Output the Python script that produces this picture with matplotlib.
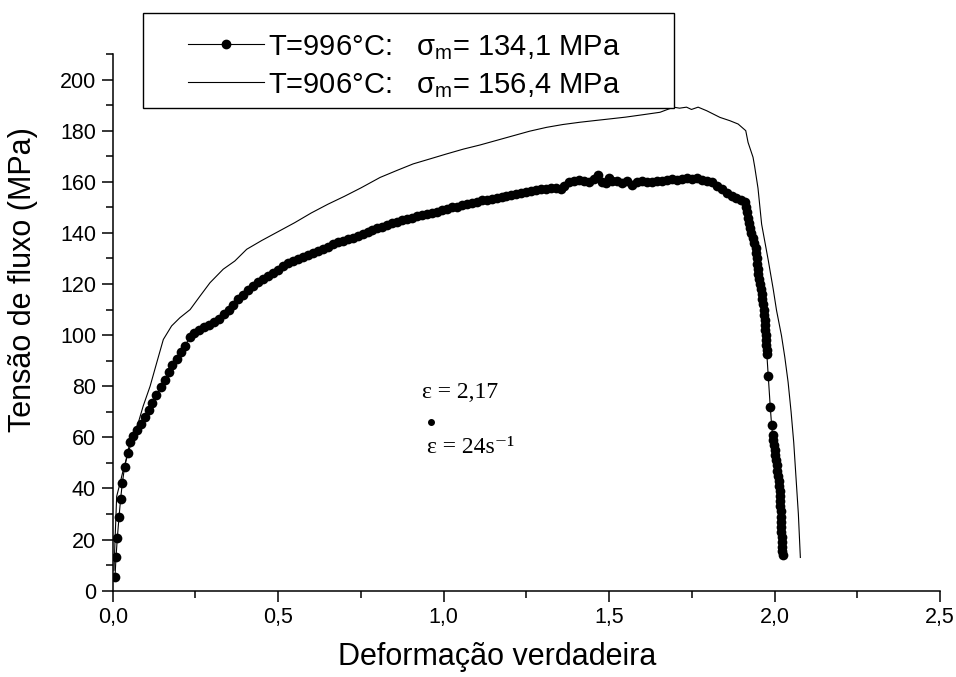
import matplotlib
matplotlib.use("Agg")
import matplotlib.pyplot as plt
from matplotlib.lines import Line2D
from matplotlib.patches import Rectangle
from matplotlib.ticker import MultipleLocator, FuncFormatter

plt.rcParams["font.family"] = ["Liberation Sans", "DejaVu Sans"]
plt.rcParams["mathtext.fontset"] = "custom"
plt.rcParams["mathtext.rm"] = "Liberation Sans"
plt.rcParams["mathtext.it"] = "Liberation Sans:italic"

# --- Data ---
# T = 996 C, plotted with dots
STRAIN_996 = [
    0.007, 0.010, 0.014, 0.019, 0.024, 0.029, 0.036, 0.045, 0.052, 0.062,
    0.074, 0.085, 0.097, 0.109, 0.120, 0.132, 0.145, 0.157, 0.170, 0.180,
    0.193, 0.205, 0.218, 0.233, 0.245, 0.260, 0.275, 0.290, 0.305, 0.320,
    0.335, 0.350, 0.365, 0.380, 0.395, 0.410, 0.425, 0.440, 0.455, 0.470,
    0.485, 0.500, 0.515, 0.530, 0.545, 0.560, 0.575, 0.590, 0.605, 0.620,
    0.635, 0.650, 0.665, 0.680, 0.695, 0.710, 0.725, 0.740, 0.755, 0.770,
    0.785, 0.800, 0.815, 0.830, 0.845, 0.860, 0.875, 0.890, 0.905, 0.920,
    0.935, 0.950, 0.965, 0.980, 0.995, 1.010, 1.025, 1.040, 1.055, 1.070,
    1.085, 1.100, 1.115, 1.130, 1.145, 1.160, 1.175, 1.190, 1.205, 1.220,
    1.235, 1.250, 1.265, 1.280, 1.295, 1.310, 1.325, 1.340, 1.355, 1.365,
    1.380, 1.395, 1.410, 1.425, 1.440, 1.455, 1.467, 1.480, 1.490, 1.500,
    1.510, 1.525, 1.540, 1.555, 1.570, 1.585, 1.600, 1.615, 1.630, 1.645,
    1.660, 1.675, 1.690, 1.705, 1.720, 1.735, 1.750, 1.765, 1.780, 1.795,
    1.810, 1.825, 1.840, 1.855, 1.870, 1.885, 1.900,
    1.910, 1.913, 1.916, 1.919, 1.922, 1.925, 1.929, 1.934, 1.939, 1.943,
    1.945, 1.946, 1.947, 1.949, 1.951, 1.954, 1.957, 1.959, 1.961, 1.963,
    1.965, 1.967, 1.969, 1.970, 1.971, 1.972, 1.973, 1.974, 1.975, 1.976,
    1.977, 1.981, 1.987, 1.991,
    1.994, 1.996, 1.998, 2.000, 2.002, 2.004, 2.006, 2.008, 2.010, 2.012,
    2.014, 2.015, 2.016, 2.017, 2.018, 2.019, 2.019, 2.020, 2.020, 2.021,
    2.022, 2.022, 2.023, 2.024, 2.025,
]
STRESS_996 = [
    5.5, 13.0, 20.7, 28.7, 36.0, 42.0, 48.5, 54.0, 58.0, 60.4,
    63.0, 65.2, 68.0, 70.6, 73.5, 76.5, 79.6, 82.6, 85.4, 88.2,
    90.8, 93.3, 95.6, 99.3, 101.0, 102.0, 103.0, 104.0, 105.3, 106.5,
    108.2, 110.0, 111.8, 114.0, 115.8, 117.6, 119.4, 120.6, 121.8, 123.0,
    124.2, 125.5, 127.0, 128.2, 129.0, 129.8, 130.5, 131.2, 132.0, 132.8,
    133.8, 134.6, 135.5, 136.3, 137.0, 137.6, 138.2, 138.8, 139.5, 140.2,
    141.0, 141.8, 142.5, 143.0, 143.7, 144.3, 145.0, 145.6, 146.0, 146.5,
    147.0, 147.2, 147.8, 148.3, 149.0, 149.4, 150.0, 150.3, 150.8, 151.2,
    151.7, 152.2, 152.8, 153.0, 153.4, 153.8, 154.2, 154.6, 155.0, 155.3,
    155.6, 156.0, 156.3, 156.7, 157.0, 157.2, 157.4, 157.6, 157.3, 158.5,
    159.8, 160.5, 160.8, 160.2, 159.8, 161.0, 162.6, 160.0, 159.6, 161.5,
    160.5, 160.3, 159.5, 160.2, 158.8, 159.8, 160.2, 159.8, 160.0, 160.4,
    160.2, 160.8, 161.0, 160.8, 161.2, 161.6, 161.0, 161.3, 160.8, 160.4,
    159.8, 158.5, 157.0, 155.8, 154.5, 153.8, 153.0,
    152.0, 150.0, 148.0, 146.0, 144.0, 142.0, 140.0, 138.0, 136.0, 134.0,
    132.0, 130.0, 128.0, 126.0, 124.0, 122.0, 120.0, 118.0, 116.0, 114.0,
    112.0, 110.0, 108.0, 106.0, 104.0, 102.0, 100.0, 98.0, 96.0, 94.0,
    92.5, 84.0, 72.0, 65.0,
    61.0, 59.0, 57.0, 55.0, 53.0, 51.0, 49.0, 47.0, 45.0, 43.0,
    41.0, 39.0, 37.0, 35.0, 33.0, 31.0, 29.0, 27.0, 25.0, 23.0,
    21.0, 19.0, 17.0, 15.5, 14.0,
]

# T = 906 C, thin line
STRAIN_906 = [
    0.004, 0.007, 0.012, 0.022, 0.032, 0.047, 0.062, 0.077, 0.092, 0.113,
    0.133, 0.153, 0.178, 0.203, 0.234, 0.264, 0.294, 0.334, 0.369, 0.405,
    0.450, 0.500, 0.550, 0.600, 0.650, 0.700, 0.750, 0.808, 0.860, 0.908,
    0.960, 1.009, 1.060, 1.110, 1.160, 1.210, 1.260, 1.311, 1.360, 1.412,
    1.460, 1.502, 1.550, 1.600, 1.654, 1.695, 1.713, 1.734, 1.749, 1.769,
    1.795, 1.815, 1.835, 1.865, 1.890, 1.913, 1.920, 1.935, 1.940, 1.950,
    1.961, 1.981, 1.996, 2.006, 2.021, 2.031, 2.041, 2.050, 2.058, 2.065,
    2.072, 2.078,
]
STRESS_906 = [
    8.0, 19.7, 36.9, 42.0, 47.3, 53.9, 60.4, 65.6, 72.2, 80.0,
    89.2, 98.3, 103.6, 106.8, 110.0, 115.3, 120.5, 125.8, 129.0, 133.6,
    137.0, 140.5, 144.0, 147.8, 151.2, 154.3, 157.6, 161.7, 164.5, 167.0,
    169.0, 170.9, 172.8, 174.4, 176.2, 178.0, 179.8, 181.3, 182.4, 183.3,
    184.0, 184.6, 185.3, 186.2, 187.2, 189.2, 188.8, 189.2, 188.3, 189.2,
    187.8, 186.5, 185.2, 183.9, 182.6, 180.0, 175.4, 169.6, 165.9, 157.5,
    143.4, 129.3, 118.0, 109.7, 99.8, 91.4, 81.6, 70.0, 58.0, 44.0,
    30.0, 13.0,
]

LABELS = [
    "T=996°C:   σ$_\\mathrm{m}$= 134,1 MPa",
    "T=906°C:   σ$_\\mathrm{m}$= 156,4 MPa",
]

# annotation: strain / strain rate, anchored in data units
NOTE_X = 0.935
NOTE_STRAIN = "ε = 2,17"
NOTE_RATE = "ε = 24s⁻¹"
NOTE_Y = [77.5, 66.0, 56.0]

W, H = 956, 677


def comma(v, pos):
    return f"{v:.1f}".replace(".", ",")


def fx(px):
    return px / W


def fy(py):
    return 1 - py / H


fig = plt.figure(figsize=(W / 100, H / 100), dpi=100)
ax = fig.add_axes([fx(112.7), fy(590.7), 827.3 / W, 536.7 / H])

dot_style = dict(color="black", linewidth=0.8, marker="o",
                 markersize=7, markeredgewidth=0)
thin_style = dict(color="black", linewidth=0.8)

ax.plot(STRAIN_996, STRESS_996, **dot_style)
ax.plot(STRAIN_906, STRESS_906, **thin_style)

ax.set_xlim(0, 2.5)
ax.set_ylim(0, 210)
ax.xaxis.set_major_locator(MultipleLocator(0.5))
ax.xaxis.set_minor_locator(MultipleLocator(0.25))
ax.yaxis.set_major_locator(MultipleLocator(20))
ax.yaxis.set_minor_locator(MultipleLocator(10))
ax.xaxis.set_major_formatter(FuncFormatter(comma))

for side in ["top", "right"]:
    ax.spines[side].set_visible(False)
for side in ["left", "bottom"]:
    ax.spines[side].set_linewidth(1.1)

ax.tick_params(which="major", direction="out", length=8, width=1.1,
               labelsize=15.5, pad=4)
ax.tick_params(which="minor", direction="out", length=5, width=1.1)

ax.set_xlabel("Deformação verdadeira", fontsize=22)
ax.set_ylabel("Tensão de fluxo (MPa)", fontsize=22)
ax.xaxis.set_label_coords(0.465, -0.095)
ax.yaxis.set_label_coords(-0.09, 0.58)

# legend drawn by hand so the box matches the reference
fig.patches.append(Rectangle((fx(143), fy(108)), fx(674) - fx(143),
                             fy(13) - fy(108), transform=fig.transFigure,
                             facecolor="white", edgecolor="black",
                             linewidth=1.0, zorder=5))
for row_y, label, style in zip([44, 82], LABELS, [dot_style, thin_style]):
    fig.add_artist(Line2D([fx(188), fx(264)], [fy(row_y)] * 2,
                          transform=fig.transFigure, color="black",
                          linewidth=0.8, zorder=6))
    if "marker" in style:
        fig.add_artist(Line2D([fx(226)], [fy(row_y)],
                              transform=fig.transFigure, color="black",
                              marker="o", markersize=6, zorder=6))
    fig.text(fx(268), fy(row_y), label, fontsize=21, ha="left",
             va="center_baseline", zorder=7)

serif = ["Liberation Serif", "DejaVu Serif"]
ax.text(NOTE_X, NOTE_Y[0], NOTE_STRAIN, family=serif, fontsize=17,
        ha="left", va="center")
ax.plot([NOTE_X + 0.028], [NOTE_Y[1]], "o", color="black", markersize=4)
ax.text(NOTE_X + 0.015, NOTE_Y[2], NOTE_RATE, family=serif, fontsize=17,
        ha="left", va="center")

fig.savefig("out.png", dpi=100)
